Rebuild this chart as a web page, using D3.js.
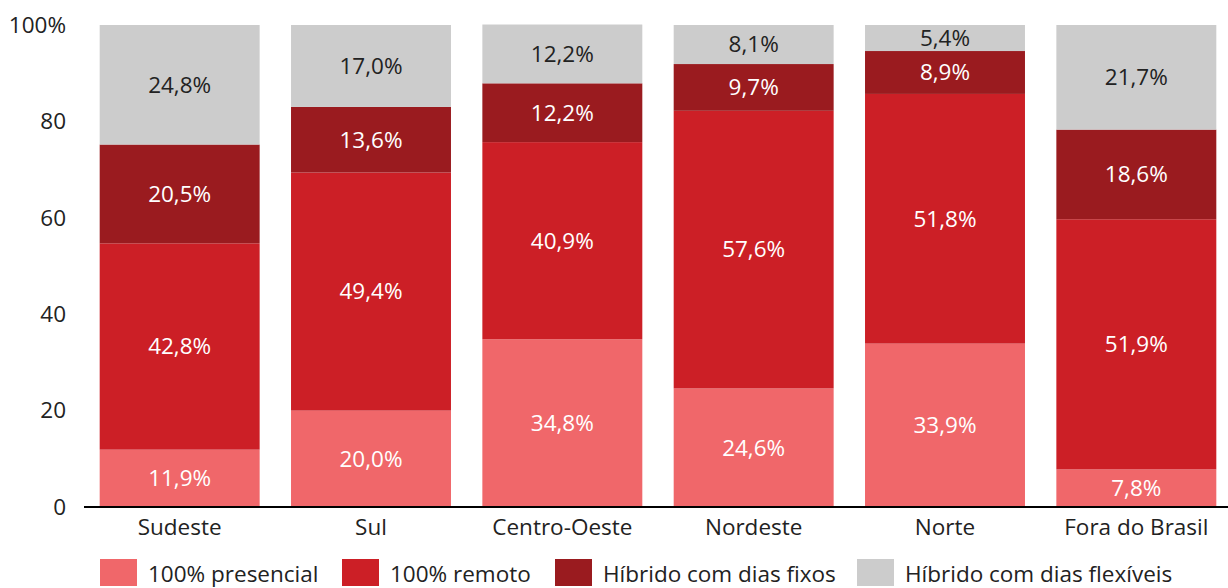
<!DOCTYPE html>
<html>
<head>
<meta charset="utf-8">
<script src="https://cdn.jsdelivr.net/npm/d3@7"></script>
<style>
  body { margin: 0; background: #fff; }
  svg text { font-family: "Open Sans", Lato, sans-serif; }
</style>
</head>
<body>
<div class="chart"></div>
<script>
var regioes = ["Sudeste", "Sul", "Centro-Oeste", "Nordeste", "Norte", "Fora do Brasil"];
var presencial = [11.9, 20.0, 34.8, 24.6, 33.9, 7.8];
var remoto = [42.8, 49.4, 40.9, 57.6, 51.8, 51.9];
var hibridoFixos = [20.5, 13.6, 12.2, 9.7, 8.9, 18.6];
var hibridoFlex = [24.8, 17.0, 12.2, 8.1, 5.4, 21.7];
var seriesNomes = ["100% presencial", "100% remoto", "Híbrido com dias fixos", "Híbrido com dias flexíveis"];
var yTicks = [0, 20, 40, 60, 80, 100];

var cores = ["#F0676A", "#CC1F26", "#9A1B1F", "#CCCCCC"];
var corTexto = ["#fff", "#fff", "#fff", "#222"];
var fonte = "22.5px";

var w = 1228, h = 588;
var svg = d3.select(".chart").append("svg")
	.attr("width", w)
	.attr("height", h);

var x = d3.scaleBand()
	.domain(regioes)
	.range([84, 1232])
	.paddingInner(0.164)
	.paddingOuter(0.082);

var y = d3.scaleLinear()
	.domain([0, 100])
	.range([507, 25]);

// build table for stack
var tabela = regioes.map(function(r, i) {
	return {regiao: r, s0: presencial[i], s1: remoto[i], s2: hibridoFixos[i], s3: hibridoFlex[i]};
});
var stack = d3.stack().keys(["s0", "s1", "s2", "s3"]);
var camadas = stack(tabela);

var grupos = svg.selectAll("g.camada")
	.data(camadas)
	.enter().append("g")
	.attr("class", "camada");

grupos.selectAll("rect")
	.data(function(d) { return d; })
	.enter().append("rect")
	.attr("x", function(d) { return x(d.data.regiao); })
	.attr("width", x.bandwidth())
	.attr("y", function(d) { return y(d[1]); })
	.attr("height", function(d) { return y(d[0]) - y(d[1]); })
	.style("fill", function(d, i, nodes) { return cores[d3.select(nodes[i].parentNode).datum().index]; });

grupos.selectAll("text")
	.data(function(d) { return d; })
	.enter().append("text")
	.attr("x", function(d) { return x(d.data.regiao) + x.bandwidth() / 2; })
	.attr("y", function(d) { return (y(d[0]) + y(d[1])) / 2; })
	.attr("dy", "0.35em")
	.attr("text-anchor", "middle")
	.style("font-size", fonte)
	.style("fill", function(d, i, nodes) { return corTexto[d3.select(nodes[i].parentNode).datum().index]; })
	.text(function(d) { return d3.format(".1f")(d[1] - d[0]).replace(".", ",") + "%"; });

// y axis labels (no line)
svg.selectAll("text.ytick")
	.data(yTicks)
	.enter().append("text")
	.attr("class", "ytick")
	.attr("x", 66)
	.attr("y", function(d) { return y(d); })
	.attr("dy", "0.35em")
	.attr("text-anchor", "end")
	.style("font-size", fonte)
	.style("fill", "#222")
	.text(function(d) { return d == 100 ? "100%" : d; });

// x axis
var xAxis = svg.append("g")
	.attr("transform", "translate(0," + y(0) + ")")
	.call(d3.axisBottom(x).tickSize(0).tickPadding(12));
xAxis.select(".domain").attr("d", "M84,0H1228").style("stroke", "#000").style("stroke-width", 2);
xAxis.selectAll("text")
	.style("font-size", fonte)
	.style("font-family", "'Open Sans', sans-serif")
	.style("fill", "#222");

// legend
var legX = [100, 342, 555, 857];
var leg = svg.selectAll("g.legenda")
	.data(seriesNomes)
	.enter().append("g")
	.attr("class", "legenda")
	.attr("transform", function(d, i) { return "translate(" + legX[i] + ",559)"; });
leg.append("rect")
	.attr("width", 37)
	.attr("height", 27)
	.style("fill", function(d, i) { return cores[i]; });
leg.append("text")
	.attr("x", 48)
	.attr("y", 15)
	.attr("dy", "0.35em")
	.style("font-size", fonte)
	.style("fill", "#222")
	.text(function(d) { return d; });
</script>
</body>
</html>
